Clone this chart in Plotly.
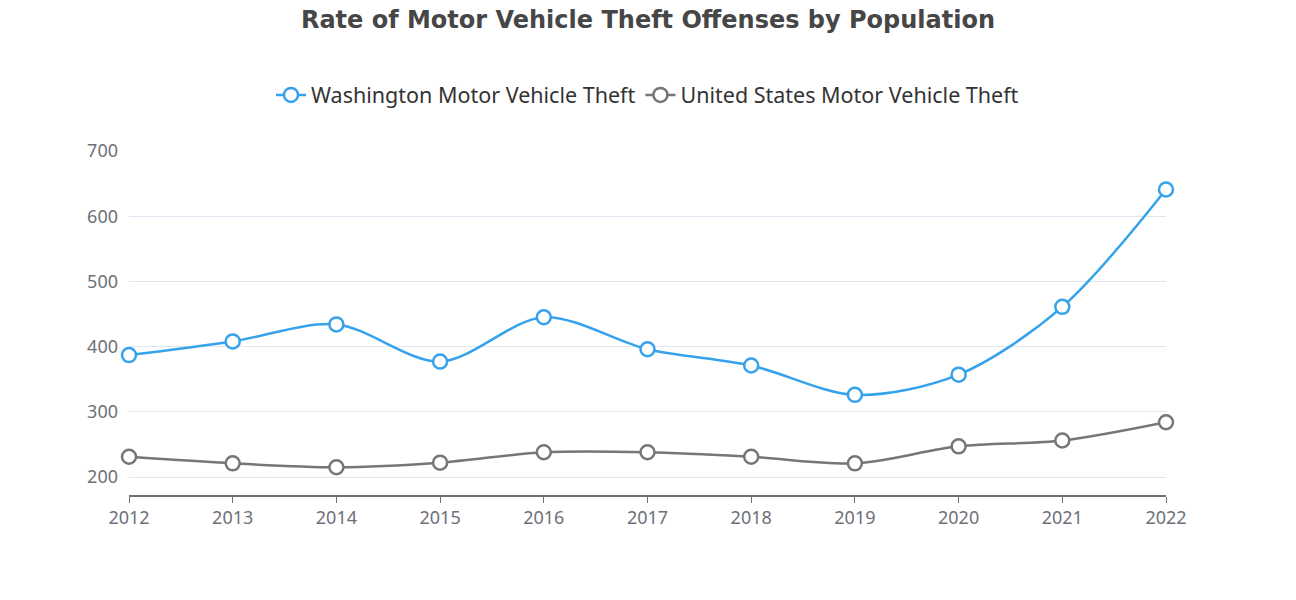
import plotly.graph_objects as go

years = [2012, 2013, 2014, 2015, 2016, 2017, 2018, 2019, 2020, 2021, 2022]
washington = [387, 408, 434, 377, 445, 396, 371, 326, 357, 461, 641]
united_states = [231, 221, 215, 222, 238, 238, 231, 221, 247, 256, 284]
y_ticks = [200, 300, 400, 500, 600, 700]

BLUE = "#36A2EB"
GRAY = "#767676"
FONT = "Noto Sans"

fig = go.Figure()
for name, vals, col in [
    ("Washington Motor Vehicle Theft", washington, BLUE),
    ("United States Motor Vehicle Theft", united_states, GRAY),
]:
    fig.add_trace(go.Scatter(
        x=years, y=vals, name=name, mode="lines+markers",
        line=dict(color=col, width=2.5, shape="spline", smoothing=0.9),
        marker=dict(symbol="circle", size=14, color="white",
                    line=dict(color=col, width=2.5)),
        cliponaxis=False,
    ))

fig.update_layout(
    width=1296, height=600,
    paper_bgcolor="white", plot_bgcolor="white",
    margin=dict(l=129, r=130, t=151, b=105),
    font=dict(family=FONT, color="#6E7079"),
    title=dict(text="<b>Rate of Motor Vehicle Theft Offenses by Population</b>",
               x=0.5, xanchor="center", y=0.968, yanchor="middle",
               font=dict(family="DejaVu Sans", size=24, color="#464646")),
    legend=dict(orientation="h", x=0.5, xanchor="center", y=1.163, yanchor="middle",
                font=dict(family=FONT, size=21.5, color="#333333"),
                traceorder="normal"),
    showlegend=True,
)
fig.update_xaxes(
    range=[2012, 2022], tickmode="array", tickvals=years,
    ticktext=[str(y) for y in years],
    showgrid=False, zeroline=False,
    showline=True, linecolor="#6E7079", linewidth=1.5,
    ticks="outside", ticklen=6, tickcolor="#6E7079",
    tickfont=dict(family=FONT, size=18, color="#6E7079"),
)
fig.update_yaxes(
    range=[172.4, 700], tickmode="array", tickvals=y_ticks,
    showgrid=True, gridcolor="#E0E6F1", gridwidth=1.2,
    zeroline=False, showline=False, ticks="", ticklabelstandoff=10,
    tickfont=dict(family=FONT, size=18, color="#6E7079"),
)

fig.write_html("out.html", config={"displayModeBar": False},
               post_script="document.body.style.margin='0';")
